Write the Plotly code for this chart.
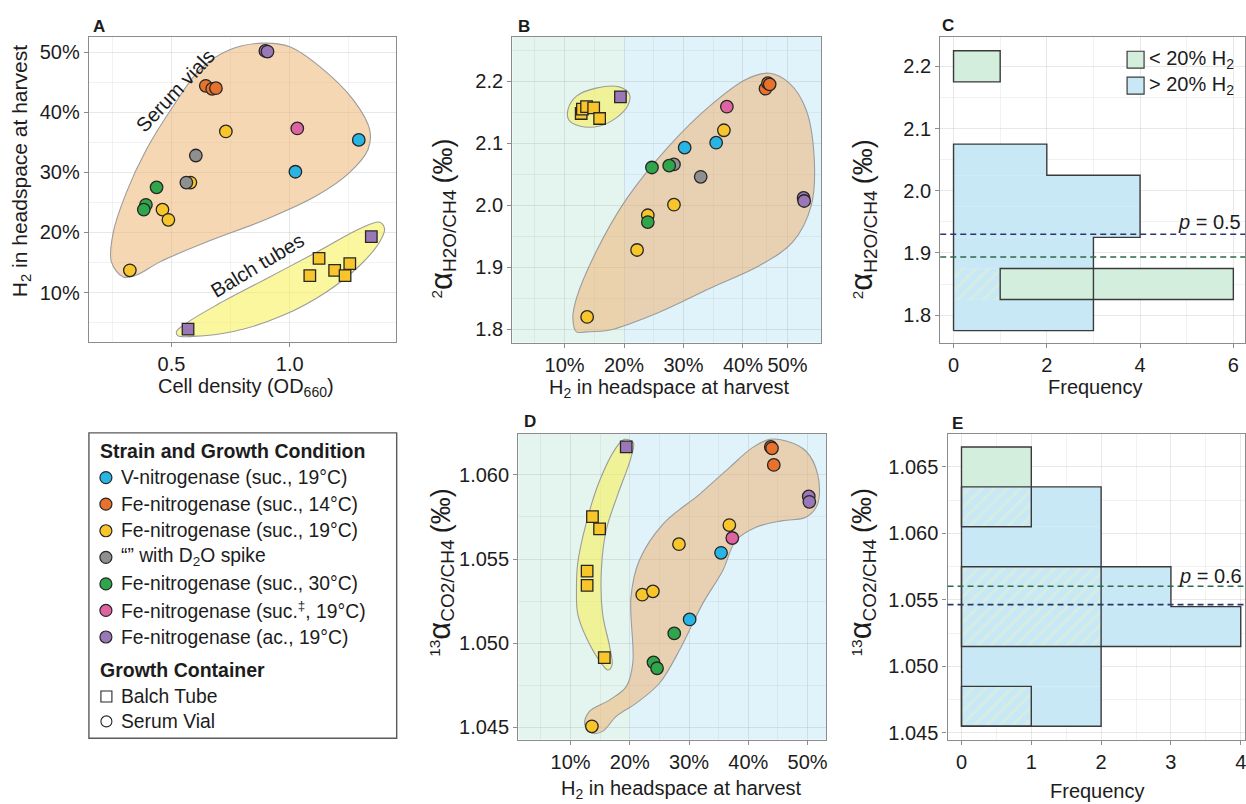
import plotly.graph_objects as go

W, H = 1246, 804
FONT = "Liberation Sans, Arial, Helvetica, sans-serif"
TXT = "#1c1c1c"
BORDER = "#8c8c8c"
OUTLINE = "#3a3a3a"
GRID = "rgba(140,140,140,0.20)"
GRID_MINOR = "rgba(140,140,140,0.11)"

# ---------------- categories ----------------
GROUP_KEYS = ["V19", "Fe14", "Fe19", "D2O", "Fe30", "Fe19s", "FeAc"]
GROUP_LABELS = ["V-nitrogenase (suc., 19°C)", "Fe-nitrogenase (suc., 14°C)",
                "Fe-nitrogenase (suc., 19°C)", "“” with D<sub>2</sub>O spike",
                "Fe-nitrogenase (suc., 30°C)", "Fe-nitrogenase (suc.<sup>‡</sup>, 19°C)",
                "Fe-nitrogenase (ac., 19°C)"]
GROUP_COLORS = ["#29b5e3", "#e8722c", "#f8c62a", "#8f8f8f", "#2fa64a", "#de64a1", "#9a78b7"]
CONTAINER_KEYS = ["tube", "vial"]
CONTAINER_LABELS = ["Balch Tube", "Serum Vial"]

# ---------------- Panel A: OD660 vs H2 ----------------
A_group = ["V19", "V19", "Fe14", "Fe14", "Fe14", "Fe19", "Fe19", "Fe19", "Fe19", "Fe19",
           "Fe19", "Fe19", "Fe19", "Fe19", "Fe19", "D2O", "D2O", "Fe30", "Fe30", "Fe30",
           "Fe19s", "FeAc", "FeAc", "FeAc", "FeAc"]
A_container = ["vial", "vial", "vial", "vial", "vial", "vial", "vial", "vial", "vial", "vial",
               "tube", "tube", "tube", "tube", "tube", "vial", "vial", "vial", "vial", "vial",
               "vial", "vial", "vial", "tube", "tube"]
A_od = [1.024, 1.292, 0.645, 0.672, 0.688, 0.730, 0.580, 0.462, 0.487, 0.324,
        1.124, 1.085, 1.190, 1.234, 1.254, 0.603, 0.563, 0.437, 0.392, 0.383,
        1.032, 0.897, 0.906, 1.345, 0.570]
A_h2 = [30.1, 35.4, 44.4, 43.9, 44.0, 36.8, 28.3, 23.8, 22.1, 13.7,
        15.7, 12.8, 13.7, 12.8, 14.8, 32.8, 28.3, 27.5, 24.6, 23.8,
        37.3, 50.2, 50.1, 19.3, 3.9]

# ---------------- Panel B: H2 vs 2-alpha ----------------
B_group = ["V19", "V19", "Fe14", "Fe14", "Fe14", "Fe19", "Fe19", "Fe19", "Fe19", "Fe19",
           "Fe19", "Fe19", "Fe19", "Fe19", "Fe19", "D2O", "D2O", "Fe30", "Fe30", "Fe30",
           "Fe19s", "FeAc", "FeAc", "FeAc"]
B_container = ["vial", "vial", "vial", "vial", "vial", "vial", "vial", "vial", "vial", "vial",
               "tube", "tube", "tube", "tube", "tube", "vial", "vial", "vial", "vial", "vial",
               "vial", "vial", "vial", "tube"]
B_h2 = [30.2, 35.5, 43.8, 44.2, 44.5, 13.8, 22.2, 24.0, 28.4, 36.8,
        12.8, 13.0, 13.7, 14.9, 15.9, 28.4, 32.9, 24.7, 27.6, 24.0,
        37.3, 50.2, 50.3, 19.4]
B_alpha = [2.093, 2.101, 2.188, 2.197, 2.195, 1.820, 1.928, 1.984, 2.001, 2.121,
           2.148, 2.155, 2.159, 2.157, 2.140, 2.066, 2.046, 2.061, 2.064, 1.973,
           2.159, 2.012, 2.007, 2.175]

# ---------------- Panel D: H2 vs 13-alpha ----------------
D_group = ["V19", "V19", "Fe14", "Fe14", "Fe14", "Fe19", "Fe19", "Fe19", "Fe19", "Fe19",
           "Fe19", "Fe19", "Fe19", "Fe19", "Fe19", "Fe30", "Fe30", "Fe30",
           "Fe19s", "FeAc", "FeAc", "FeAc"]
D_container = ["vial", "vial", "vial", "vial", "vial", "vial", "vial", "vial", "vial", "vial",
               "tube", "tube", "tube", "tube", "tube", "vial", "vial", "vial",
               "vial", "vial", "vial", "tube"]
D_h2 = [35.4, 30.1, 43.8, 44.0, 44.3, 13.6, 22.1, 23.9, 28.3, 36.8,
        13.7, 14.9, 12.8, 12.8, 15.7, 27.5, 24.0, 24.6,
        37.3, 50.2, 50.3, 19.4]
D_alpha = [1.05537, 1.05141, 1.06166, 1.06158, 1.06059, 1.04506, 1.05288, 1.05308, 1.05588, 1.05702,
           1.05752, 1.05679, 1.05428, 1.05344, 1.04914, 1.05058, 1.04886, 1.04851,
           1.05625, 1.05872, 1.05840, 1.06166]

# ---------------- group outlines (data units) ----------------
A_vial_hull_od = [0.296, 0.246, 0.254, 0.310, 0.394, 0.507, 0.620, 0.746, 0.887, 1.000,
                  1.127, 1.268, 1.338, 1.331, 1.254, 1.113, 0.901, 0.648, 0.451, 0.352]
A_vial_hull_h2 = [12.6, 15.1, 20.0, 26.7, 33.8, 41.0, 47.1, 50.4, 51.5, 50.9,
                  47.6, 42.1, 37.1, 33.8, 30.0, 26.1, 22.2, 18.4, 15.1, 12.9]
A_tube_hull_od = [0.521, 0.563, 0.690, 0.901, 1.113, 1.296, 1.380, 1.401, 1.380, 1.296,
                  1.155, 0.972, 0.761, 0.592, 0.528]
A_tube_hull_h2 = [3.5, 4.9, 7.9, 12.3, 16.7, 20.6, 21.7, 20.6, 18.4, 14.5,
                  10.1, 6.2, 3.5, 2.7, 2.8]
B_vial_hull_h2 = [12.0, 11.4, 12.0, 15.3, 20.4, 27.6, 34.4, 40.5, 44.5, 47.8,
                  50.6, 52.0, 51.5, 48.4, 42.8, 34.4, 26.0, 17.6, 13.6]
B_vial_hull_a = [1.796, 1.818, 1.850, 1.925, 2.010, 2.096, 2.160, 2.203, 2.213, 2.197,
                 2.155, 2.074, 2.000, 1.941, 1.903, 1.866, 1.828, 1.799, 1.796]
B_tube_hull_h2 = [10.6, 12.0, 15.3, 19.2, 20.9, 20.6, 18.7, 15.9, 12.5, 10.7]
B_tube_hull_a = [2.155, 2.176, 2.189, 2.191, 2.179, 2.160, 2.141, 2.128, 2.128, 2.138]
D_vial_hull_h2 = [12.4, 13.2, 16.6, 19.4, 20.5, 20.2, 21.6, 25.6, 31.8, 36.8, 40.7, 43.6, 46.4,
                  49.7, 51.7, 51.7, 49.7, 45.8, 41.3, 37.9, 35.7, 32.3, 28.4, 25.0, 21.1,
                  17.7, 15.4, 13.5]
D_vial_hull_a = [1.04516, 1.04595, 1.04663, 1.04742, 1.04880, 1.05275, 1.05491, 1.05708,
                 1.05886, 1.06043, 1.06162, 1.06211, 1.06201, 1.06142, 1.06004, 1.05827,
                 1.05748, 1.05728, 1.05689, 1.05610, 1.05432, 1.05235, 1.04959, 1.04762,
                 1.04644, 1.04565, 1.04476, 1.04466]
D_tube_hull_h2 = [11.0, 11.2, 12.6, 14.9, 17.7, 19.1, 20.6, 20.2, 18.0, 16.0, 15.2, 15.4,
                  16.6, 17.0, 16.3, 15.2, 12.6, 11.2]
D_tube_hull_a = [1.05314, 1.05472, 1.05708, 1.05965, 1.06162, 1.06211, 1.06191, 1.06103,
                 1.05886, 1.05669, 1.05432, 1.05176, 1.04979, 1.04870, 1.04841, 1.04880,
                 1.05038, 1.05176]
H2_SPLIT = 20

# ---------------- Panel C histogram ----------------
C_blue_edges = [1.775, 1.825, 1.875, 1.925, 1.975, 2.025, 2.075]
C_blue_counts = [3, 3, 3, 4, 4, 2]
C_green_lo = [1.825, 2.175]
C_green_hi = [1.875, 2.225]
C_green_from = [1, 0]
C_green_to = [6, 1]
C_hatch_lo = [1.825]
C_hatch_hi = [1.875]
C_hatch_to = [1]
C_mean_high = 1.930
C_mean_low = 1.8934
C_p_text = "<i>p</i> = 0.5"

# ---------------- Panel E histogram ----------------
E_blue_edges = [1.0455, 1.0485, 1.0515, 1.0545, 1.0575, 1.0605, 1.0635]
E_blue_counts = [2, 2, 4, 3, 2, 2]
E_green_lo = [1.0455, 1.0515, 1.0605]
E_green_hi = [1.0485, 1.0575, 1.0665]
E_green_count = [1, 2, 1]
E_mean_high = 1.05603
E_mean_low = 1.05465
E_p_text = "<i>p</i> = 0.6"

BLUE_FILL = "#c8e8f5"
GREEN_FILL = "#d3eedc"
HATCH_FG = "#e3f2cc"
NAVY = "#2b3570"
DKGREEN = "#2d6a48"
BG_LOW = "#e4f4ee"
BG_HIGH = "#e0f3fb"
VIAL_FILL = "rgba(238,175,105,0.50)"
TUBE_FILL = "rgba(248,240,80,0.55)"
HULL_LINE = "#9c9c9c"

# ---------------- axes ----------------
def px(x):
    return x / W

def py(y):
    return 1 - y / H

def make_axis(dom, rng, tv, tt, minor, anchor, **extra):
    ax = dict(domain=dom, range=rng, anchor=anchor, tickmode="array", tickvals=tv, ticktext=tt,
              showgrid=True, gridcolor=GRID, gridwidth=1,
              minor=dict(tickmode="array", tickvals=minor, showgrid=True,
                         gridcolor=GRID_MINOR, gridwidth=1, ticks=""),
              showline=True, mirror=True, linecolor=BORDER, linewidth=1.3,
              ticks="outside", ticklen=4, tickwidth=1.2, tickcolor=BORDER,
              tickfont=dict(family=FONT, size=20, color=TXT),
              zeroline=False, fixedrange=True)
    ax.update(extra)
    return ax

pct = lambda v: f"{v}%"
layout = dict(
    width=W, height=H, margin=dict(l=0, r=0, t=0, b=0),
    paper_bgcolor="white", plot_bgcolor="white", showlegend=False,
    barmode="overlay", font=dict(family=FONT, color=TXT),
    xaxis=make_axis([px(89), px(396)], [0.151, 1.448], [0.5, 1.0], ["0.5", "1.0"],
                    [0.25, 0.75, 1.25], "y"),
    yaxis=make_axis([py(344), py(36.7)], [1.72, 52.6], [10, 20, 30, 40, 50],
                    [pct(v) for v in [10, 20, 30, 40, 50]], [5, 15, 25, 35, 45], "x"),
    xaxis2=make_axis([px(512.7), px(821.7)], [1.21, 53.14], [10, 20, 30, 40, 47.5],
                     [pct(v) for v in [10, 20, 30, 40, 50]], [5, 15, 25, 35, 44], "y2"),
    yaxis2=make_axis([py(344.3), py(37.3)], [1.7787, 2.2712], [1.8, 1.9, 2.0, 2.1, 2.2],
                     ["1.8", "1.9", "2.0", "2.1", "2.2"], [1.85, 1.95, 2.05, 2.15, 2.25], "x2"),
    xaxis3=make_axis([px(941), 1.0], [-0.285, 6.25], [0, 2, 4, 6], ["0", "2", "4", "6"],
                     [1, 3, 5], "y3", ticklabeloverflow="allow"),
    yaxis3=make_axis([py(345), py(37.3)], [1.7547, 2.247], [1.8, 1.9, 2.0, 2.1, 2.2],
                     ["1.8", "1.9", "2.0", "2.1", "2.2"], [1.85, 1.95, 2.05, 2.15], "x3"),
    xaxis4=make_axis([px(518.7), px(827)], [1.18, 53.17], [10, 20, 30, 40, 50],
                     [pct(v) for v in [10, 20, 30, 40, 50]], [5, 15, 25, 35, 45], "y4"),
    yaxis4=make_axis([py(743.3), py(436)], [1.04427, 1.06244], [1.045, 1.050, 1.055, 1.060],
                     ["1.045", "1.050", "1.055", "1.060"], [1.0475, 1.0525, 1.0575, 1.0625], "x4"),
    xaxis5=make_axis([px(948.3), 1.0], [-0.2, 4.061], [0, 1, 2, 3, 4], ["0", "1", "2", "3", "4"],
                     [0.5, 1.5, 2.5, 3.5], "y5", ticklabeloverflow="allow"),
    yaxis5=make_axis([py(743.3), py(436)], [1.0445, 1.06749],
                     [1.045, 1.050, 1.055, 1.060, 1.065],
                     ["1.045", "1.050", "1.055", "1.060", "1.065"],
                     [1.0475, 1.0525, 1.0575, 1.0625], "x5"),
)
fig = go.Figure(layout=layout)

shapes = []
annotations = []

# background split in B and D
for xa, ya, rng in (("x2", "y2", layout["xaxis2"]["range"]), ("x4", "y4", layout["xaxis4"]["range"])):
    shapes.append(dict(type="rect", xref=xa, yref=ya + " domain", x0=rng[0], x1=H2_SPLIT, y0=0, y1=1,
                       fillcolor=BG_LOW, line=dict(width=0), layer="below"))
    shapes.append(dict(type="rect", xref=xa, yref=ya + " domain", x0=H2_SPLIT, x1=rng[1], y0=0, y1=1,
                       fillcolor=BG_HIGH, line=dict(width=0), layer="below"))


def add_hull(xs, ys, fill, xa, ya):
    fig.add_trace(go.Scatter(x=list(xs) + [xs[0]], y=list(ys) + [ys[0]], mode="lines",
                             fill="toself", fillcolor=fill,
                             line=dict(color=HULL_LINE, width=1.1, shape="spline", smoothing=1.0),
                             xaxis=xa, yaxis=ya, hoverinfo="skip", showlegend=False))


def add_points(grp, cont, xs, ys, xa, ya):
    for g, col in zip(GROUP_KEYS, GROUP_COLORS):
        for c, sym in (("tube", "square"), ("vial", "circle")):
            idx = [i for i in range(len(grp)) if grp[i] == g and cont[i] == c]
            if not idx:
                continue
            fig.add_trace(go.Scatter(
                x=[xs[i] for i in idx], y=[ys[i] for i in idx], mode="markers",
                marker=dict(symbol=sym, size=12.5 if sym == "circle" else 11.5, color=col,
                            line=dict(color="#262626", width=1.3)),
                xaxis=xa, yaxis=ya, hoverinfo="skip", showlegend=False))


# Panel A
add_hull(A_vial_hull_od, A_vial_hull_h2, VIAL_FILL, "x", "y")
add_hull(A_tube_hull_od, A_tube_hull_h2, TUBE_FILL, "x", "y")
add_points(A_group, A_container, A_od, A_h2, "x", "y")
# Panel B
add_hull(B_vial_hull_h2, B_vial_hull_a, VIAL_FILL, "x2", "y2")
add_hull(B_tube_hull_h2, B_tube_hull_a, TUBE_FILL, "x2", "y2")
add_points(B_group, B_container, B_h2, B_alpha, "x2", "y2")
# Panel D
add_hull(D_vial_hull_h2, D_vial_hull_a, VIAL_FILL, "x4", "y4")
add_hull(D_tube_hull_h2, D_tube_hull_a, TUBE_FILL, "x4", "y4")
add_points(D_group, D_container, D_h2, D_alpha, "x4", "y4")


# ---------------- histograms ----------------
def hbars(lo, hi, start, end, xa, ya, color, line_w=0.0, pattern=None):
    marker = dict(color=color, line=dict(color=OUTLINE, width=line_w))
    if pattern:
        marker["pattern"] = pattern
    fig.add_trace(go.Bar(orientation="h", y=[(a + b) / 2 for a, b in zip(lo, hi)],
                         x=[e - s for s, e in zip(start, end)], base=list(start),
                         width=[b - a for a, b in zip(lo, hi)], marker=marker,
                         xaxis=xa, yaxis=ya, hoverinfo="skip", showlegend=False))


def step_outline(edges, counts, xa, ya):
    xs, ys = [0], [edges[0]]
    for i, c in enumerate(counts):
        xs += [c, c]
        ys += [edges[i], edges[i + 1]]
    xs += [0, 0]
    ys += [edges[-1], edges[0]]
    fig.add_trace(go.Scatter(x=xs, y=ys, mode="lines", line=dict(color=OUTLINE, width=1.4),
                             xaxis=xa, yaxis=ya, hoverinfo="skip", showlegend=False))


HATCH = dict(shape="/", fgcolor=HATCH_FG, size=9, solidity=0.3, fillmode="overlay")

# C
hbars(C_blue_edges[:-1], C_blue_edges[1:], [0] * len(C_blue_counts), C_blue_counts, "x3", "y3", BLUE_FILL)
hbars(C_hatch_lo, C_hatch_hi, [0] * len(C_hatch_to), C_hatch_to, "x3", "y3", BLUE_FILL, 0, HATCH)
hbars(C_green_lo, C_green_hi, C_green_from, C_green_to, "x3", "y3", GREEN_FILL, 1.4)
step_outline(C_blue_edges, C_blue_counts, "x3", "y3")

# E
blue_top = E_blue_edges[-1]
sol_lo, sol_hi, sol_n, hat_lo, hat_hi, hat_n = [], [], [], [], [], []
for lo, hi, n in zip(E_green_lo, E_green_hi, E_green_count):
    if hi > blue_top:
        sol_lo.append(max(lo, blue_top)); sol_hi.append(hi); sol_n.append(n)
    if lo < blue_top:
        hat_lo.append(lo); hat_hi.append(min(hi, blue_top)); hat_n.append(n)
hbars(E_blue_edges[:-1], E_blue_edges[1:], [0] * len(E_blue_counts), E_blue_counts, "x5", "y5", BLUE_FILL)
hbars(sol_lo, sol_hi, [0] * len(sol_n), sol_n, "x5", "y5", GREEN_FILL)
hbars(hat_lo, hat_hi, [0] * len(hat_n), hat_n, "x5", "y5", BLUE_FILL, 0, HATCH)
hbars(E_green_lo, E_green_hi, [0] * len(E_green_count), E_green_count, "x5", "y5",
      "rgba(0,0,0,0)", 1.4)
step_outline(E_blue_edges, E_blue_counts, "x5", "y5")

# mean lines
for ya, val, col in (("y3", C_mean_high, NAVY), ("y3", C_mean_low, DKGREEN),
                     ("y5", E_mean_high, DKGREEN), ("y5", E_mean_low, NAVY)):
    xa = "x" + ya[1:]
    shapes.append(dict(type="line", xref=xa + " domain", yref=ya, x0=0, x1=1, y0=val, y1=val,
                       line=dict(color=col, width=1.7, dash="6px,4px"), layer="above"))


# ---------------- text ----------------
def ann(text, x, y, size=20, xanchor="center", yanchor="middle", angle=0, bold=False, **kw):
    annotations.append(dict(text=f"<b>{text}</b>" if bold else text, x=x, y=y,
                            xref=kw.pop("xref", "paper"), yref=kw.pop("yref", "paper"),
                            xanchor=xanchor, yanchor=yanchor, textangle=angle, showarrow=False,
                            font=dict(family=FONT, size=size, color=TXT), **kw))


# panel letters
for lab, x, y in (("A", 91, 27), ("B", 516, 27), ("C", 941, 26), ("D", 522, 424), ("E", 951, 426)):
    ann(lab, px(x), py(y), size=17, xanchor="left", bold=True)

H2_TITLE = "H<sub>2</sub> in headspace at harvest"
A2_TITLE = ('<sup>2</sup><span style="font-size:31px">α</span>'
            '<sub><span style="font-size:19px">H2O/CH4</span></sub> '
            '<span style="font-size:27px">(‰)</span>')
A13_TITLE = ('<sup>13</sup><span style="font-size:31px">α</span>'
             '<sub><span style="font-size:19px">CO2/CH4</span></sub> '
             '<span style="font-size:27px">(‰)</span>')

ann("Cell density (OD<sub>660</sub>)", px(246), py(389))
ann(H2_TITLE, px(21), py(172), angle=-90, size=21)
ann(H2_TITLE, px(670), py(390))
ann(A2_TITLE, px(443), py(220), angle=-90, size=22)
ann("Frequency", px(1096), py(389))
ann(A2_TITLE, px(864), py(220), angle=-90, size=22)
ann(H2_TITLE, px(682), py(793))
ann(A13_TITLE, px(440), py(575), angle=-90, size=22)
ann("Frequency", px(1098), py(795))
ann(A13_TITLE, px(862), py(575), angle=-90, size=22)

# group labels in A
ann("Serum vials", 0.514, 43.6, angle=-47, xref="x", yref="y")
ann("Balch tubes", 0.865, 14.6, angle=-31, xref="x", yref="y")

# p-values
ann(C_p_text, px(1244), py(223), xanchor="right")
ann(E_p_text, px(1245), py(579), xanchor="right")

# C histogram key
for lab, col, yc in (("&lt; 20% H<sub>2</sub>", GREEN_FILL, 60), ("&gt; 20% H<sub>2</sub>", BLUE_FILL, 86)):
    shapes.append(dict(type="rect", xref="paper", yref="paper", x0=px(1128), x1=px(1145),
                       y0=py(yc + 8.5), y1=py(yc - 8.5), fillcolor=col,
                       line=dict(color=OUTLINE, width=1.2), layer="above"))
    ann(lab, px(1148), py(yc), xanchor="left")

# main legend
shapes.append(dict(type="rect", xref="paper", yref="paper", x0=px(89), x1=px(397),
                   y0=py(742), y1=py(435), line=dict(color="#5a5a5a", width=1.4),
                   fillcolor="rgba(0,0,0,0)"))
ann("Strain and Growth Condition", px(98), py(453), size=19.5, xanchor="left", bold=True)
for i, (lab, col) in enumerate(zip(GROUP_LABELS, GROUP_COLORS)):
    yc = 480 + i * 26.7
    shapes.append(dict(type="circle", xref="paper", yref="paper", xsizemode="pixel",
                       ysizemode="pixel", xanchor=px(106), yanchor=py(yc),
                       x0=-6, x1=6, y0=-6, y1=6, fillcolor=col,
                       line=dict(color="#262626", width=1.2)))
    ann(lab, px(119), py(yc), size=19.3, xanchor="left")
ann("Growth Container", px(98), py(673), size=19.5, xanchor="left", bold=True)
for lab, key, yc in zip(CONTAINER_LABELS, CONTAINER_KEYS, (700, 725)):
    shapes.append(dict(type="rect" if key == "tube" else "circle", xref="paper", yref="paper",
                       xsizemode="pixel", ysizemode="pixel", xanchor=px(106.5), yanchor=py(yc),
                       x0=-5.5, x1=5.5, y0=-5.5, y1=5.5, fillcolor="white",
                       line=dict(color="#262626", width=1.1)))
    ann(lab, px(119), py(yc), size=19.3, xanchor="left")

fig.update_layout(shapes=shapes, annotations=annotations)
fig.write_html("out.html")
